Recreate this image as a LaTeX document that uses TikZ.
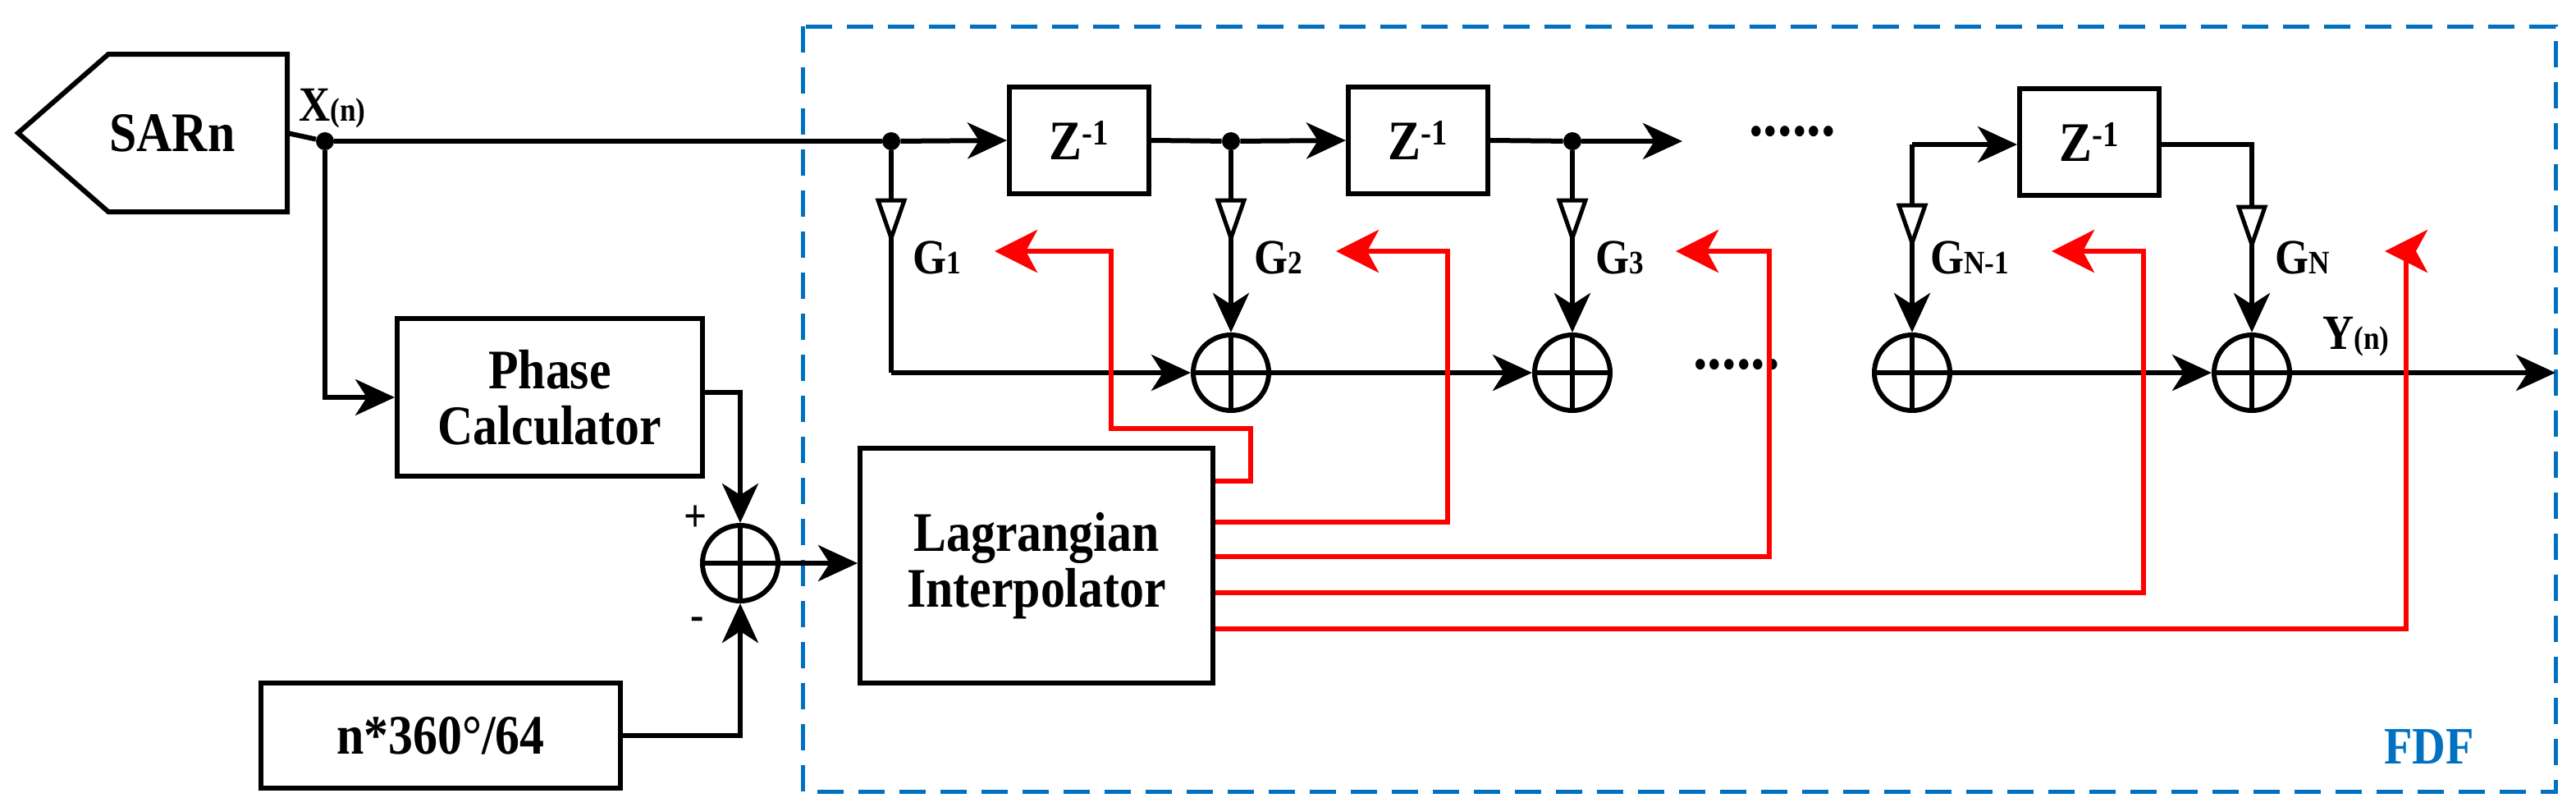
\documentclass[tikz,border=0pt]{standalone}
\usepackage{fontspec}
\setmainfont{Liberation Serif}[FakeStretch=0.88]
\usetikzlibrary{arrows.meta}
\definecolor{fdfblue}{RGB}{0,112,192}
\tikzset{
  ln/.style={line width=3pt,black},
  arr/.style={ln,-{Stealth[length=24pt,width=22pt,inset=7pt]}},
  rarr/.style={line width=3pt,red,-{Stealth[length=26pt,width=26pt,inset=7pt]}},
  rln/.style={line width=3pt,red},
  box/.style={draw,line width=3pt,inner sep=0pt,font=\bfseries\fontsize{34}{38}\selectfont,align=center},
  zbox/.style={box,minimum width=85pt,minimum height=65pt},
  sum/.style={circle,draw,line width=3pt,minimum size=46pt,inner sep=0pt,
    path picture={\draw[line width=3pt] (path picture bounding box.north)--(path picture bounding box.south)
      (path picture bounding box.west)--(path picture bounding box.east);}},
  dot/.style={circle,fill=black,inner sep=0pt,minimum size=11pt},
  lab/.style={font=\bfseries\fontsize{30}{34}\selectfont,inner sep=0pt,anchor=west},
}
\newcommand{\zinv}{Z\textsuperscript{\fontsize{22}{24}\selectfont -1}}
\newcommand{\gsub}[2]{#1{\fontsize{20}{22}\selectfont #2}}
\newcommand{\amp}[2]{\draw[line width=2.5pt,fill=white] (#1-8,#2) -- (#1+8,#2) -- (#1,#2+23) -- cycle;}
\begin{document}
\begin{tikzpicture}[x=1pt,y=-1pt]
\useasboundingbox (0,0) rectangle (1569.5,491);
% FDF frame
\draw[fdfblue,line width=2.5pt,dash pattern=on 16pt off 9pt] (489,16) rectangle (1557,482);
\node[font=\bfseries\fontsize{32}{36}\selectfont,text=fdfblue] (fdf) at (1480,455) {FDF};
% SARn
\draw[ln] (11,81) -- (66,33) -- (175,33) -- (175,129) -- (66,129) -- cycle;
\node[font=\bfseries\fontsize{34}{38}\selectfont] (sar) at (105,81) {SARn};
\node[dot] (dx) at (198,86) {};
\node[lab] (xl) at (182,66) {\gsub{X}{(n)}};
% boxes
\node[box,minimum width=186pt,minimum height=96pt] (pc) at (335,242) {Phase\\[-4pt]Calculator};
\node[box,minimum width=219pt,minimum height=64pt] (nb) at (268.5,448) {n*360°/64};
\node[box,minimum width=215pt,minimum height=143pt] (lg) at (631.5,344.5) {Lagrangian\\[-4pt]Interpolator};
\node[sum] (s0) at (451,343) {};
\node[font=\bfseries\fontsize{28}{30}\selectfont] (pl) at (424,316) {+};
\node[font=\bfseries\fontsize{28}{30}\selectfont] (mi) at (425,380) {-};
% delays
\node[zbox] (z1) at (657.5,85.5) {\zinv};
\node[zbox] (z2) at (864,85.5) {\zinv};
\node[zbox] (z3) at (1273,86.5) {\zinv};
\node[dot] (d1) at (543,86) {};
\node[dot] (d2) at (750,86) {};
\node[dot] (d3) at (958,86) {};
\coordinate (d4) at (1165,88);
\coordinate (e3) at (1025,86);
\coordinate (c1) at (543,227);
\coordinate (o5) at (1557,227);
% sums
\node[sum] (s2) at (750,227) {};
\node[sum] (s3) at (958,227) {};
\node[sum] (s4) at (1165,227) {};
\node[sum] (s5) at (1372,227) {};
% dots
\node[font=\bfseries\fontsize{40}{40}\selectfont] (dt1) at (1092,80) {......};
\node[font=\bfseries\fontsize{40}{40}\selectfont] (dt2) at (1058,222) {......};
% black connectors
\draw[ln] (sar.east -| 175,86) -- (dx);
\draw[ln] (dx) -- (d1);
\draw[arr] (d1) -- (z1.west);
\draw[ln] (z1.east) -- (d2);
\draw[arr] (d2) -- (z2.west);
\draw[ln] (z2.east) -- (d3);
\draw[arr] (d3) -- (e3);
\draw[arr] (dx) |- (pc.west);
\draw[arr] (pc.east |- 0,239) -| (s0.north);
\draw[arr] (nb.east) -| (s0.south);
\draw[arr] (s0.east) -- (lg.west |- s0.east);
\draw[ln] (d1) -- (c1);
\draw[arr] (c1) -- (s2.west);
\draw[arr] (d2) -- (s2.north);
\draw[arr] (d3) -- (s3.north);
\draw[arr] (d4) -- (s4.north);
\draw[arr] (d4) -- (z3.west |- d4);
\draw[arr] (z3.east |- d4) -| (s5.north);
\draw[arr] (s2.east) -- (s3.west);
\draw[arr] (s4.east) -- (s5.west);
\draw[arr] (s5.east) -- (o5);
% amplifiers
\amp{543}{122}\amp{750}{122}\amp{958}{122}\amp{1165}{125}\amp{1372}{126}
\node[lab] (g1) at (556,157) {\gsub{G}{1}};
\node[lab] (g2) at (764,157) {\gsub{G}{2}};
\node[lab] (g3) at (972,157) {\gsub{G}{3}};
\node[lab] (g4) at (1176,157) {\gsub{G}{N-1}};
\node[lab] (g5) at (1386,157) {\gsub{G}{N}};
\node[lab] (yl) at (1415,205) {\gsub{Y}{(n)}};
% red
\coordinate (t1) at (606,153);
\coordinate (t2) at (814,153);
\coordinate (t3) at (1021,153);
\coordinate (t4) at (1250,153);
\coordinate (t5) at (1453,153);
\draw[rarr] (lg.east |- 0,293) -- (762,293) -- (762,261) -- (677,261) -- (677,153) -- (t1);
\draw[rarr] (lg.east |- 0,318) -- (882,318) -- (882,153) -- (t2);
\draw[rarr] (lg.east |- 0,339) -- (1078,339) -- (1078,153) -- (t3);
\draw[rarr] (lg.east |- 0,361) -- (1306,361) -- (1306,153) -- (t4);
\draw[rarr] (lg.east |- 0,383) -- (1466,383) -- (1466,153) -- (t5);
\end{tikzpicture}
\end{document}
